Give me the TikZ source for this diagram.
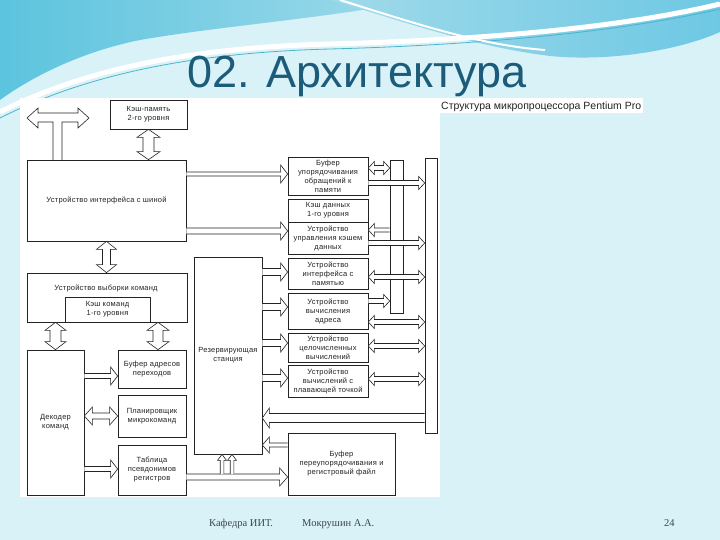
\documentclass[tikz,border=0pt]{standalone}
\usepackage{fontspec}
\setmainfont{Liberation Sans}
\newfontfamily\diagfont[LetterSpace=3]{Liberation Sans}
\newfontfamily\titlefont{Liberation Sans}
\newfontfamily\footfont{Liberation Serif}
\usetikzlibrary{calc}
\definecolor{slidebg}{RGB}{216,242,247}
\definecolor{titlec}{RGB}{28,92,122}
\definecolor{waveA}{RGB}{92,196,222}
\definecolor{waveB}{RGB}{160,218,234}
\definecolor{waveC}{RGB}{110,200,228}
\definecolor{footc}{RGB}{60,72,84}
\definecolor{ink}{RGB}{35,35,35}
\tikzset{
 box/.style={draw=ink, line width=0.7pt, fill=white, align=center, inner sep=0pt, text=ink,
   font=\diagfont\fontsize{7.5}{9}\selectfont},
 fat/.style={draw=ink, line width=0.6pt, fill=white, line join=miter},
}
% box from (x1,y1) to (x2,y2) in pixel units
\newcommand\blk[6]{\node[box, minimum width={(#4-#2)*1pt}, minimum height={(#5-#3)*1pt}] (#1) at ({(#2+#4)/2},{(#3+#5)/2}) {#6};}
% fat arrows: #1 from, #2 to, #3 shaft half width, #4 head half width, #5 head length
\newcommand\fatR[5]{\path[fat] let \p1=#1, \p2=#2 in
 (\x1,\y1+#3pt) -- (\x2-#5pt,\y1+#3pt) -- (\x2-#5pt,\y1+#4pt) -- (\x2,\y1)
 -- (\x2-#5pt,\y1-#4pt) -- (\x2-#5pt,\y1-#3pt) -- (\x1,\y1-#3pt);}
\newcommand\fatL[5]{\path[fat] let \p1=#1, \p2=#2 in
 (\x1,\y1+#3pt) -- (\x2+#5pt,\y1+#3pt) -- (\x2+#5pt,\y1+#4pt) -- (\x2,\y1)
 -- (\x2+#5pt,\y1-#4pt) -- (\x2+#5pt,\y1-#3pt) -- (\x1,\y1-#3pt);}
\newcommand\fatHD[5]{\path[fat] let \p1=#1, \p2=#2 in
 (\x1,\y1) -- (\x1+#5pt,\y1+#4pt) -- (\x1+#5pt,\y1+#3pt) -- (\x2-#5pt,\y1+#3pt) -- (\x2-#5pt,\y1+#4pt)
 -- (\x2,\y1) -- (\x2-#5pt,\y1-#4pt) -- (\x2-#5pt,\y1-#3pt) -- (\x1+#5pt,\y1-#3pt) -- (\x1+#5pt,\y1-#4pt) -- cycle;}
\newcommand\fatVD[5]{\path[fat] let \p1=#1, \p2=#2 in
 (\x1,\y1) -- (\x1+#4pt,\y1-#5pt) -- (\x1+#3pt,\y1-#5pt) -- (\x1+#3pt,\y2+#5pt) -- (\x1+#4pt,\y2+#5pt)
 -- (\x1,\y2) -- (\x1-#4pt,\y2+#5pt) -- (\x1-#3pt,\y2+#5pt) -- (\x1-#3pt,\y1-#5pt) -- (\x1-#4pt,\y1-#5pt) -- cycle;}
\newcommand\fatU[5]{\path[fat] let \p1=#1, \p2=#2 in
 (\x1+#3pt,\y1) -- (\x1+#3pt,\y2-#5pt) -- (\x1+#4pt,\y2-#5pt) -- (\x1,\y2)
 -- (\x1-#4pt,\y2-#5pt) -- (\x1-#3pt,\y2-#5pt) -- (\x1-#3pt,\y1);}
\begin{document}
\begin{tikzpicture}[x=1pt,y=-1pt]
\useasboundingbox (0,0) rectangle (720,540);
% slide background
\fill[slidebg] (0,0) rectangle (720,540);
\shade[left color=waveA, right color=waveB] (0,0) -- (420,0) .. controls (330,18) and (220,26) .. (140,40)
  .. controls (80,52) and (30,78) .. (0,100) -- cycle;
\shade[left color=waveB, right color=waveC] (330,0) -- (720,0) -- (720,32) .. controls (680,50) and (610,62) .. (550,56)
  .. controls (470,46) and (400,20) .. (330,0) -- cycle;
\draw[white, line width=5pt] (0,112) .. controls (80,72) and (180,48) .. (330,44) .. controls (480,40) and (620,28) .. (720,4);
\draw[waveA!80!teal, line width=0.8pt] (0,118) .. controls (80,78) and (180,53) .. (330,49) .. controls (480,45) and (620,32) .. (720,9);
\draw[white, line width=2pt] (340,0) .. controls (420,25) and (480,45) .. (545,50);
% title
\node[anchor=base, font=\titlefont\fontsize{45}{50}\selectfont, text=titlec, inner sep=0pt] (title) at (357,88) {02. Архитектура};
% white scan area and caption
\fill[white] (20,98) rectangle (440,497);
\fill[white] (437,98) rectangle (643,113);
\node[anchor=base west, font=\fontsize{10.5}{12}\selectfont, text=ink, inner sep=0pt] (caption) at (441,109.5) {Структура микропроцессора Pentium Pro};
% footer
\node[anchor=base west, font=\footfont\fontsize{10.5}{12}\selectfont, text=footc, inner sep=0pt] (foot1) at (209,526) {Кафедра ИИТ.};
\node[anchor=base west, font=\footfont\fontsize{10.5}{12}\selectfont, text=footc, inner sep=0pt] (foot2) at (302,526) {Мокрушин А.А.};
\node[anchor=base west, font=\footfont\fontsize{10.5}{12}\selectfont, text=footc, inner sep=0pt] (page) at (664,526) {24};
% boxes
\blk{l2}{110}{100}{187}{129}{Кэш-память\\2-го уровня}
\blk{biu}{27}{160}{186}{241}{Устройство интерфейса с шиной}
\blk{fetch}{27}{273}{187}{322}{}
\node[box, draw=none, fill=none] (fetchlbl) at (106,288) {Устройство выборки команд};
\blk{ic}{65}{297}{150}{322}{Кэш команд\\1-го уровня}
\blk{dec}{27}{350}{84}{495}{Декодер\\команд}
\blk{btb}{118}{350}{186}{388}{Буфер адресов\\переходов}
\blk{ms}{118}{395}{186}{437}{Планировщик\\микрокоманд}
\blk{rat}{118}{445}{186}{495}{Таблица\\псевдонимов\\регистров}
\blk{rs}{194}{257}{262}{454}{Резервирующая\\станция}
\blk{mob}{288}{157}{368}{195}{Буфер\\упорядочивания\\обращений к\\памяти}
\blk{l1d}{288}{199}{368}{222}{Кэш данных\\1-го уровня}
\blk{dcu}{288}{222}{368}{254}{Устройство\\управления кэшем\\данных}
\blk{miu}{288}{258}{368}{289}{Устройство\\интерфейса с\\памятью}
\blk{agu}{288}{293}{368}{329}{Устройство\\вычисления\\адреса}
\blk{ieu}{288}{333}{368}{362}{Устройство\\целочисленных\\вычислений}
\blk{feu}{288}{365}{368}{397}{Устройство\\вычислений с\\плавающей точкой}
\blk{rob}{288}{433}{395}{495}{Буфер\\переупорядочивания и\\регистровый файл}
% internal buses
\blk{nbus}{390}{160}{403}{313}{}
\blk{wbus}{425}{158}{437}{433}{}
% external bus (T-shaped double arrow)
\path[fat] (53,160) -- (53,122) -- (38,122) -- (38,128) -- (27,118) -- (38,108) -- (38,113) -- (78,113)
  -- (78,108) -- (89,118) -- (78,128) -- (78,122) -- (62,122) -- (62,160);
% vertical connectors
\fatVD{(l2.south)}{(l2.south |- biu.north)}{5.5}{11.5}{8}
\fatVD{(biu.south)}{(fetch.north)}{4}{10}{8}
\fatVD{(fetch.south -| dec.north)}{(dec.north)}{5.5}{10.5}{8}
\fatVD{(fetch.south -| 158,0)}{(btb.north -| 158,0)}{5}{11}{8}
% bus interface to memory units
\fatR{(biu.east |- 0,174)}{(mob.west |- 0,174)}{2}{9}{7}
\fatR{(biu.east |- 0,231)}{(dcu.west |- 0,231)}{3}{9}{7}
% reservation station to execution units
\fatR{(rs.east |- 0,272)}{(miu.west |- 0,272)}{3.5}{9}{7}
\fatR{(rs.east |- 0,307)}{(agu.west |- 0,307)}{3.5}{9}{7}
\fatR{(rs.east |- 0,343)}{(ieu.west |- 0,343)}{3.5}{9}{7}
\fatR{(rs.east |- 0,378)}{(feu.west |- 0,378)}{3.5}{9}{7}
% units to buses
\fatHD{(mob.east |- 0,168)}{(nbus.west |- 0,168)}{2.5}{6.5}{6}
\fatR{(mob.east |- 0,183)}{(wbus.west |- 0,183)}{2.5}{6.5}{6}
\fatL{(nbus.west |- 0,230)}{(dcu.east |- 0,230)}{2}{6.5}{6}
\fatR{(dcu.east |- 0,243)}{(wbus.west |- 0,243)}{2.5}{6.5}{6}
\fatHD{(miu.east |- 0,277)}{(wbus.west |- 0,277)}{2.5}{6.5}{6}
\fatR{(agu.east |- 0,301)}{(nbus.west |- 0,301)}{2.5}{6.5}{6}
\fatHD{(agu.east |- 0,322)}{(wbus.west |- 0,322)}{2.5}{6.5}{6}
\fatHD{(ieu.east |- 0,346)}{(wbus.west |- 0,346)}{2.5}{6.5}{6}
\fatHD{(feu.east |- 0,379)}{(wbus.west |- 0,379)}{2.5}{6.5}{6}
% results back to reservation station
\fatL{(wbus.west |- 424.5,418)}{(rs.east |- 0,418)}{4.5}{10}{7}
\fatL{(rob.west |- 0,445)}{(rs.east |- 0,445)}{2}{8}{7}
% decoder connections
\fatR{(dec.east |- 0,376)}{(btb.west |- 0,376)}{2.5}{9}{7}
\fatHD{(dec.east |- 0,416)}{(ms.west |- 0,416)}{3}{9}{8}
\fatR{(dec.east |- 0,469)}{(rat.west |- 0,469)}{2.5}{9}{7}
\fatR{(rat.east |- 0,477)}{(rob.west |- 0,477)}{3}{9}{8}
\fatU{(222,474)}{(rs.south -| 222,0)}{1.8}{4.5}{6}
\fatU{(232,474)}{(rs.south -| 232,0)}{1.8}{4.5}{6}
\end{tikzpicture}
\end{document}
